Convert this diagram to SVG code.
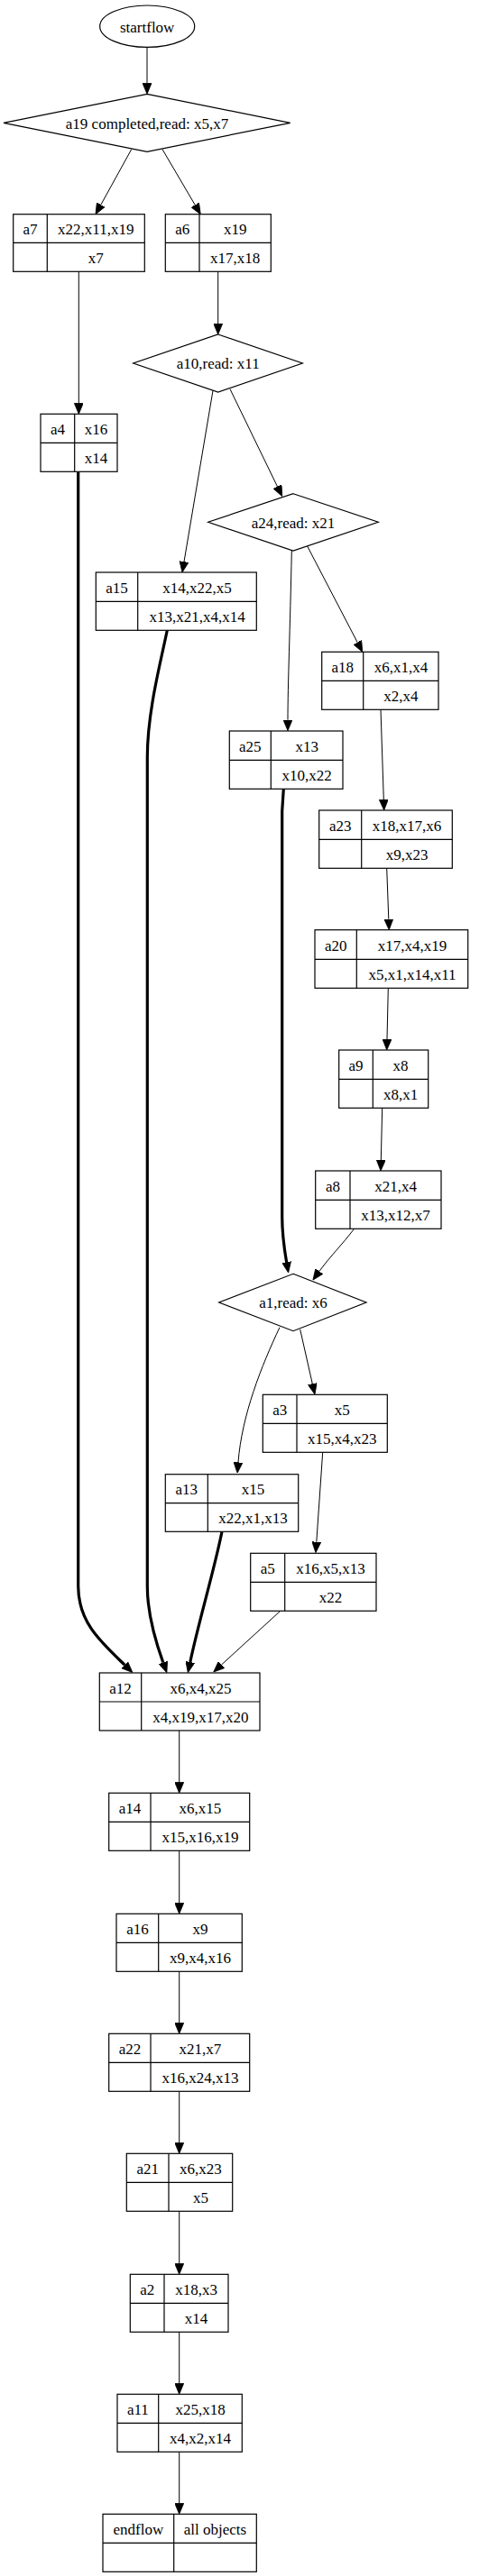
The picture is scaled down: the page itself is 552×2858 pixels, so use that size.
<svg xmlns="http://www.w3.org/2000/svg" width="552" height="2858" viewBox="0 0 552 2858">
<style>
.nd rect,.nd ellipse,.nd polygon{fill:#fff;stroke:#000;stroke-width:1.2}
.nd path{fill:none;stroke:#000;stroke-width:1.2}
.nd text{font-family:"Liberation Serif","Times New Roman",serif;font-size:17px;fill:#000;text-anchor:middle}
.ed path{fill:none;stroke:#000;stroke-width:1;marker-end:url(#ah)}
.ed path.b{stroke-width:3.2}
</style>
<defs>
<marker id="ah" viewBox="0 0 12 10" refX="0" refY="5" markerWidth="12" markerHeight="10" markerUnits="userSpaceOnUse" orient="auto">
<path d="M0,0 L12,5 L0,10 z" fill="#000" stroke="#000" stroke-width="0.8"/>
</marker>
</defs>
<rect width="552" height="2858" fill="#fff"/>
<g id="edges" class="ed">
<path d="M163,52.3 L163,92.3"/>
<path d="M145.7,165.7 L111.8,227.2"/>
<path d="M180,165.7 L216.2,227.4"/>
<path d="M87.3,301.3 L87.3,447.3"/>
<path d="M241.7,301.3 L241.7,359"/>
<path d="M236,433.3 L204,623.2"/>
<path d="M255,431.7 L307.5,539.9"/>
<path class="b" d="M86.7,523.3 L86.7,1760 C86.7,1800 112,1822 138.2,1847.2"/>
<path class="b" d="M185.3,699.3 C178,735 163.3,790 163.3,840 L163.3,1760 C163.3,1790 172,1820 180.8,1844.5"/>
<path d="M323.3,611 C321.5,700 319,760 319,798.7"/>
<path d="M340.7,606 L396.2,712.7"/>
<path class="b" d="M314.3,875.3 L312.7,900 L312.7,1350 C312.7,1370 315,1385 317.6,1400.2"/>
<path d="M422,787.3 L425.3,887"/>
<path d="M428.7,963.3 L430.8,1019.7"/>
<path d="M430.3,1096.3 L429,1153"/>
<path d="M423.7,1229.3 L422.3,1287"/>
<path d="M392.7,1363.3 C380,1380 365,1395 353.9,1410.4"/>
<path d="M310,1472.7 C290,1515 268,1570 264,1622.4"/>
<path d="M332.7,1475 L346.3,1535.3"/>
<path d="M357.7,1611.3 L350.8,1710.7"/>
<path class="b" d="M246,1699.3 C238,1740 220,1800 210.8,1844"/>
<path d="M310.7,1787.3 L245.6,1846.9"/>
<path d="M198.7,1920 L198.7,1977.3"/>
<path d="M198.7,2053.3 L198.7,2111.3"/>
<path d="M198.7,2187.3 L198.7,2244.3"/>
<path d="M198.7,2320.3 L198.7,2377.3"/>
<path d="M198.7,2453.3 L198.7,2511.3"/>
<path d="M198.7,2587.3 L198.7,2644.3"/>
<path d="M198.7,2720.3 L198.7,2777.3"/>
</g>
<g id="startflow" class="nd"><ellipse cx="163.2" cy="29.2" rx="52.5" ry="23.2"/><text x="163.2" y="35.5">startflow</text></g>
<g id="a19" class="nd"><polygon points="163,104.3 321.7,136.3 163,168.3 4,136.3"/><text x="163" y="142.5">a19 completed,read: x5,x7</text></g>
<g id="a10" class="nd"><polygon points="241.7,371 335.3,403 241.7,435 147.7,403"/><text x="241.7" y="409.3">a10,read: x11</text></g>
<g id="a24" class="nd"><polygon points="325,547.7 419.3,579.3 325,611 230.7,579.3"/><text x="325" y="585.7">a24,read: x21</text></g>
<g id="a1" class="nd"><polygon points="325,1413.3 406,1445 325,1476.7 242.7,1445"/><text x="325" y="1451.3">a1,read: x6</text></g>
<g id="a7" class="nd"><rect x="14.7" y="237.7" width="145.6" height="63.6"/><path d="M52.3,237.7V301.3M14.7,269.3H160.3"/><text x="33.5" y="260">a7</text><text x="106.3" y="260">x22,x11,x19</text><text x="106.3" y="291.8">x7</text></g>
<g id="a6" class="nd"><rect x="183.3" y="237.7" width="117" height="63.6"/><path d="M221,237.7V301.3M183.3,269.3H300.3"/><text x="202.2" y="260">a6</text><text x="260.7" y="260">x19</text><text x="260.7" y="291.8">x17,x18</text></g>
<g id="a4" class="nd"><rect x="45" y="459.3" width="85" height="64"/><path d="M82.7,459.3V523.3M45,491.3H130"/><text x="63.9" y="481.8">a4</text><text x="106.4" y="481.8">x16</text><text x="106.4" y="513.8">x14</text></g>
<g id="a15" class="nd"><rect x="106.3" y="635" width="178" height="64.3"/><path d="M152.7,635V699.3M106.3,667.3H284.3"/><text x="129.5" y="657.7">a15</text><text x="218.5" y="657.7">x14,x22,x5</text><text x="218.5" y="689.8">x13,x21,x4,x14</text></g>
<g id="a18" class="nd"><rect x="356.7" y="723.3" width="129.3" height="64"/><path d="M402.7,723.3V787.3M356.7,755.3H486"/><text x="379.7" y="745.8">a18</text><text x="444.4" y="745.8">x6,x1,x4</text><text x="444.4" y="777.8">x2,x4</text></g>
<g id="a25" class="nd"><rect x="254.3" y="811" width="125.7" height="64.3"/><path d="M300.3,811V875.3M254.3,843.3H380"/><text x="277.3" y="833.7">a25</text><text x="340.2" y="833.7">x13</text><text x="340.2" y="865.8">x10,x22</text></g>
<g id="a23" class="nd"><rect x="353.7" y="899" width="147.6" height="64.3"/><path d="M400.7,899V963.3M353.7,931.3H501.3"/><text x="377.2" y="921.7">a23</text><text x="451" y="921.7">x18,x17,x6</text><text x="451" y="953.8">x9,x23</text></g>
<g id="a20" class="nd"><rect x="349" y="1031.7" width="169.7" height="64.6"/><path d="M395.3,1031.7V1096.3M349,1064.3H518.7"/><text x="372.2" y="1054.5">a20</text><text x="457" y="1054.5">x17,x4,x19</text><text x="457" y="1086.8">x5,x1,x14,x11</text></g>
<g id="a9" class="nd"><rect x="375.7" y="1165" width="99" height="64.3"/><path d="M413.3,1165V1229.3M375.7,1197.3H474.7"/><text x="394.5" y="1187.7">a9</text><text x="444" y="1187.7">x8</text><text x="444" y="1219.8">x8,x1</text></g>
<g id="a8" class="nd"><rect x="349.7" y="1299" width="139.3" height="64.3"/><path d="M388,1299V1363.3M349.7,1331.3H489"/><text x="368.9" y="1321.7">a8</text><text x="438.5" y="1321.7">x21,x4</text><text x="438.5" y="1353.8">x13,x12,x7</text></g>
<g id="a3" class="nd"><rect x="291.3" y="1547.3" width="138" height="64"/><path d="M329,1547.3V1611.3M291.3,1579.3H429.3"/><text x="310.2" y="1569.8">a3</text><text x="379.2" y="1569.8">x5</text><text x="379.2" y="1601.8">x15,x4,x23</text></g>
<g id="a13" class="nd"><rect x="183.3" y="1635.7" width="147.4" height="63.6"/><path d="M230.3,1635.7V1699.3M183.3,1667.7H330.7"/><text x="206.8" y="1658.2">a13</text><text x="280.5" y="1658.2">x15</text><text x="280.5" y="1690">x22,x1,x13</text></g>
<g id="a5" class="nd"><rect x="277.7" y="1723.3" width="139.3" height="64"/><path d="M315.7,1723.3V1787.3M277.7,1755.3H417"/><text x="296.7" y="1745.8">a5</text><text x="366.4" y="1745.8">x16,x5,x13</text><text x="366.4" y="1777.8">x22</text></g>
<g id="a12" class="nd"><rect x="110.3" y="1856" width="177.7" height="64"/><path d="M156.7,1856V1920M110.3,1888H288"/><text x="133.5" y="1878.5">a12</text><text x="222.4" y="1878.5">x6,x4,x25</text><text x="222.4" y="1910.5">x4,x19,x17,x20</text></g>
<g id="a14" class="nd"><rect x="120.7" y="1989.3" width="156" height="64"/><path d="M167,1989.3V2053.3M120.7,2021.3H276.7"/><text x="143.9" y="2011.8">a14</text><text x="221.9" y="2011.8">x6,x15</text><text x="221.9" y="2043.8">x15,x16,x19</text></g>
<g id="a16" class="nd"><rect x="129" y="2123.3" width="139.3" height="64"/><path d="M175.7,2123.3V2187.3M129,2155.3H268.3"/><text x="152.4" y="2145.8">a16</text><text x="222" y="2145.8">x9</text><text x="222" y="2177.8">x9,x4,x16</text></g>
<g id="a22" class="nd"><rect x="120.7" y="2256.3" width="156" height="64"/><path d="M167,2256.3V2320.3M120.7,2288.3H276.7"/><text x="143.9" y="2278.8">a22</text><text x="221.9" y="2278.8">x21,x7</text><text x="221.9" y="2310.8">x16,x24,x13</text></g>
<g id="a21" class="nd"><rect x="140.3" y="2389.3" width="117.4" height="64"/><path d="M187,2389.3V2453.3M140.3,2421.3H257.7"/><text x="163.7" y="2411.8">a21</text><text x="222.4" y="2411.8">x6,x23</text><text x="222.4" y="2443.8">x5</text></g>
<g id="a2" class="nd"><rect x="144.3" y="2523.3" width="108.7" height="64"/><path d="M182,2523.3V2587.3M144.3,2555.3H253"/><text x="163.2" y="2545.8">a2</text><text x="217.5" y="2545.8">x18,x3</text><text x="217.5" y="2577.8">x14</text></g>
<g id="a11" class="nd"><rect x="130" y="2656.3" width="138.3" height="64"/><path d="M175.7,2656.3V2720.3M130,2688.3H268.3"/><text x="152.9" y="2678.8">a11</text><text x="222" y="2678.8">x25,x18</text><text x="222" y="2710.8">x4,x2,x14</text></g>
<g id="endflow" class="nd"><rect x="114" y="2789.3" width="170.3" height="64"/><path d="M192.7,2789.3V2853.3M114,2821.3H284.3"/><text x="153.4" y="2811.8">endflow</text><text x="238.5" y="2811.8">all objects</text></g>
</svg>
